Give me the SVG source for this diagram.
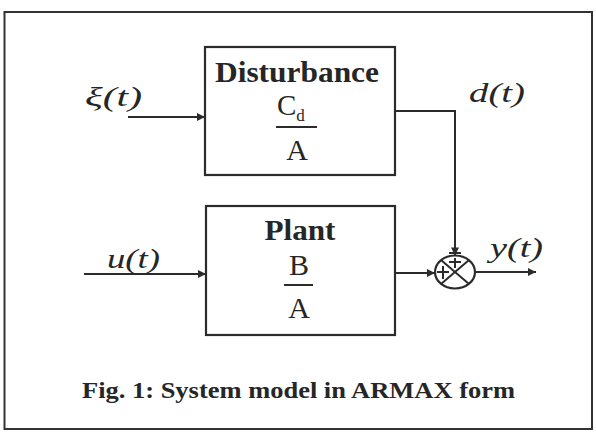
<svg xmlns="http://www.w3.org/2000/svg" width="596" height="432" viewBox="0 0 596 432">
<defs>
<style>
.ln{fill:none;stroke:#2b2b2b;stroke-width:2}
.box{fill:#fff;stroke:#2b2b2b;stroke-width:2.2}
text{font-family:'Liberation Serif','Times New Roman',Times,serif;fill:#262626}
.bt{font-weight:bold}
.it{font-style:italic}
</style>
<marker id="arr" viewBox="0 0 10 10" refX="10" refY="5" markerWidth="10" markerHeight="8" markerUnits="userSpaceOnUse" orient="auto">
<path d="M0,0 L10,5 L0,10 Z" fill="#2b2b2b"/>
</marker>
</defs>
<rect x="0" y="0" width="596" height="432" fill="#fff"/>
<rect x="4.5" y="12" width="587.5" height="417" fill="none" stroke="#333" stroke-width="2"/>

<g id="disturbance">
<rect class="box" x="205" y="47" width="190" height="128"/>
<text class="bt" x="297" y="82" font-size="30" text-anchor="middle" textLength="164" lengthAdjust="spacingAndGlyphs">Disturbance</text>
<text x="277" y="115" font-size="29">C<tspan font-size="17" dy="6">d</tspan></text>
<line class="ln" x1="276" y1="127" x2="317" y2="127"/>
<text x="297" y="160" font-size="30" text-anchor="middle">A</text>
</g>

<g id="plant">
<rect class="box" x="206" y="206" width="189" height="129"/>
<text class="bt" x="300" y="240" font-size="30" text-anchor="middle" textLength="71" lengthAdjust="spacingAndGlyphs">Plant</text>
<text x="299" y="275" font-size="30" text-anchor="middle">B</text>
<line class="ln" x1="284" y1="285" x2="313" y2="285"/>
<text x="299" y="318" font-size="30" text-anchor="middle">A</text>
</g>

<g id="sum">
<ellipse cx="455" cy="272" rx="20" ry="16.5" fill="#fff" stroke="#2b2b2b" stroke-width="2.2"/>
<line class="ln" x1="441" y1="260" x2="469" y2="284"/>
<line class="ln" x1="469" y1="260" x2="441" y2="284"/>
<line class="ln" x1="455" y1="258" x2="455" y2="268" stroke-width="1.6"/>
<line class="ln" x1="449" y1="262" x2="461" y2="262" stroke-width="1.6"/>
<line class="ln" x1="443" y1="266" x2="443" y2="279" stroke-width="1.6"/>
<line class="ln" x1="437" y1="272" x2="449" y2="272" stroke-width="1.6"/>
</g>

<g id="connectors">
<line class="ln" x1="128" y1="117" x2="205" y2="117" marker-end="url(#arr)"/>
<line class="ln" x1="84" y1="274" x2="206" y2="274" marker-end="url(#arr)"/>
<polyline class="ln" points="395,111 455,111 455,255.5" marker-end="url(#arr)"/>
<line class="ln" x1="449" y1="253" x2="461" y2="253"/>
<line class="ln" x1="395" y1="273" x2="435" y2="273" marker-end="url(#arr)"/>
<line class="ln" x1="475" y1="272" x2="536" y2="272" marker-end="url(#arr)"/>
</g>

<g id="labels">
<text class="it" x="85" y="106" font-size="28" textLength="57" lengthAdjust="spacingAndGlyphs">ξ(t)</text>
<text class="it" x="469" y="102" font-size="28" textLength="56" lengthAdjust="spacingAndGlyphs">d(t)</text>
<text class="it" x="107" y="268" font-size="28" textLength="53" lengthAdjust="spacingAndGlyphs">u(t)</text>
<text class="it" x="490" y="257" font-size="28" textLength="53" lengthAdjust="spacingAndGlyphs">y(t)</text>
<text class="bt" x="82" y="398" font-size="24" textLength="433" lengthAdjust="spacingAndGlyphs">Fig. 1: System model in ARMAX form</text>
</g>
</svg>
